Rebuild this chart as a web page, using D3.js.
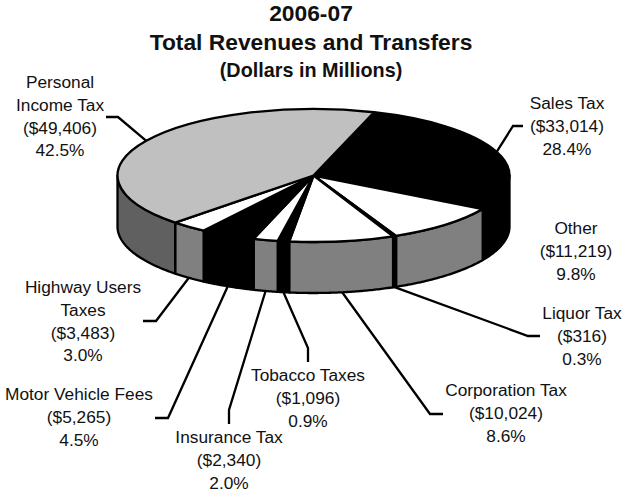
<!DOCTYPE html>
<html>
<head>
<meta charset="utf-8">
<script src="https://cdn.jsdelivr.net/npm/d3@7"></script>
<style>
  html, body { margin: 0; padding: 0; background: #fff; }
  text { font-family: "Liberation Sans", Arial, sans-serif; fill: #111; }
</style>
</head>
<body>
<div id="my_dataviz"></div>
<script>
// slices, clockwise starting from Sales Tax
var names = [["Sales Tax"], ["Other"], ["Liquor Tax"], ["Corporation Tax"], ["Tobacco Taxes"],
             ["Insurance Tax"], ["Motor Vehicle Fees"], ["Highway Users", "Taxes"], ["Personal", "Income Tax"]];
var values = [33014, 11219, 316, 10024, 1096, 2340, 5265, 3483, 49406];
var percents = ["28.4%", "9.8%", "0.3%", "8.6%", "0.9%", "2.0%", "4.5%", "3.0%", "42.5%"];

// slice colours
var topColors = ["#000", "#fff", "#000", "#fff", "#000", "#fff", "#000", "#fff", "#c0c0c0"];
var sideColors = ["#000", "#808080", "#000", "#808080", "#000", "#808080", "#000", "#808080", "#606060"];

// label centre x, first line centre y, leader elbow points
var labelX = [567, 576, 582, 506, 308, 229, 79, 83, 60];
var labelY = [103, 228, 313, 390, 375, 437, 394, 287, 82];
var leaders = [
  [[523, 126], [513, 126]],
  null,
  [[540, 336], [528, 336]],
  [[443, 414], [430, 414]],
  [[308, 362], [308, 348]],
  [[229, 424], [229, 410]],
  [[155, 418], [168, 418]],
  [[143, 321], [156, 321]],
  [[106, 117], [118, 117]]
];

var width = 626, height = 494;
var cx = 313.5, cy = 175.5, rx = 196, ry = 66.5, depth = 51;
var lineHeight = 22.8;
var startAngle = 18 * Math.PI / 180;

var svg = d3.select("#my_dataviz")
  .append("svg")
    .attr("width", width)
    .attr("height", height)
    .style("display", "block");

// title
var titles = [
  {text: "2006-07", y: 13, size: 22.8},
  {text: "Total Revenues and Transfers", y: 42, size: 22.8},
  {text: "(Dollars in Millions)", y: 70, size: 19.8}
];
svg.selectAll(".title")
  .data(titles)
  .enter().append("text")
    .attr("class", "title")
    .attr("x", 311)
    .attr("y", function(d) { return d.y; })
    .attr("text-anchor", "middle")
    .attr("font-weight", "bold")
    .attr("font-size", function(d) { return d.size; })
    .attr("dy", "0.35em")
    .text(function(d) { return d.text; });

var pie = d3.pie()
  .sort(null)
  .startAngle(startAngle)
  .endAngle(startAngle + 2 * Math.PI);
var arcs = pie(values);

function px(a) { return cx + rx * Math.sin(a); }
function py(a) { return cy - ry * Math.cos(a); }

var line = d3.line();

// side wall of a slice, only the part facing the viewer
function sidePath(d) {
  var a0 = Math.max(d.startAngle, Math.PI / 2);
  var a1 = Math.min(d.endAngle, 3 * Math.PI / 2);
  if (a1 <= a0) return null;
  var steps = d3.range(0, 61).map(function(i) { return a0 + (a1 - a0) * i / 60; });
  var upper = steps.map(function(a) { return [px(a), py(a)]; });
  var lower = steps.slice().reverse().map(function(a) { return [px(a), py(a) + depth]; });
  return line(upper.concat(lower)) + "Z";
}

svg.append("g")
  .selectAll("path")
  .data(arcs)
  .enter().append("path")
    .attr("d", sidePath)
    .attr("fill", function(d, i) { return sideColors[i]; })
    .attr("stroke", "#000")
    .attr("stroke-width", 2.3)
    .attr("stroke-linejoin", "round");

// top faces: a flat d3 pie squashed into the ellipse
var arc = d3.arc().innerRadius(0).outerRadius(rx);
svg.append("g")
  .attr("transform", "translate(" + cx + "," + cy + ") scale(1," + (ry / rx) + ")")
  .selectAll("path")
  .data(arcs)
  .enter().append("path")
    .attr("d", arc)
    .attr("fill", function(d, i) { return topColors[i]; })
    .attr("stroke", "#000")
    .attr("stroke-width", 2.3)
    .attr("stroke-linejoin", "round")
    .attr("vector-effect", "non-scaling-stroke");

// leader lines run from the slice's middle angle on the rim to the label
svg.append("g")
  .selectAll("path")
  .data(arcs)
  .enter().append("path")
    .attr("d", function(d, i) {
      if (!leaders[i]) return null;
      var mid = (d.startAngle + d.endAngle) / 2;
      var rim = [px(mid), py(mid) + (Math.cos(mid) < 0 ? depth : 0)];
      return line(leaders[i].concat([rim]));
    })
    .attr("fill", "none")
    .attr("stroke", "#000")
    .attr("stroke-width", 2.3);

// labels
var labels = svg.append("g")
  .selectAll("text")
  .data(arcs)
  .enter().append("text")
    .attr("text-anchor", "middle")
    .attr("font-size", 17.3);

labels.each(function(d, i) {
  var rows = names[i].concat(["($" + d3.format(",")(values[i]) + ")", percents[i]]);
  d3.select(this).selectAll("tspan")
    .data(rows)
    .enter().append("tspan")
      .attr("x", labelX[i])
      .attr("y", function(r, j) { return labelY[i] + j * lineHeight; })
      .attr("dy", "0.35em")
      .text(function(r) { return r; });
});
</script>
</body>
</html>
